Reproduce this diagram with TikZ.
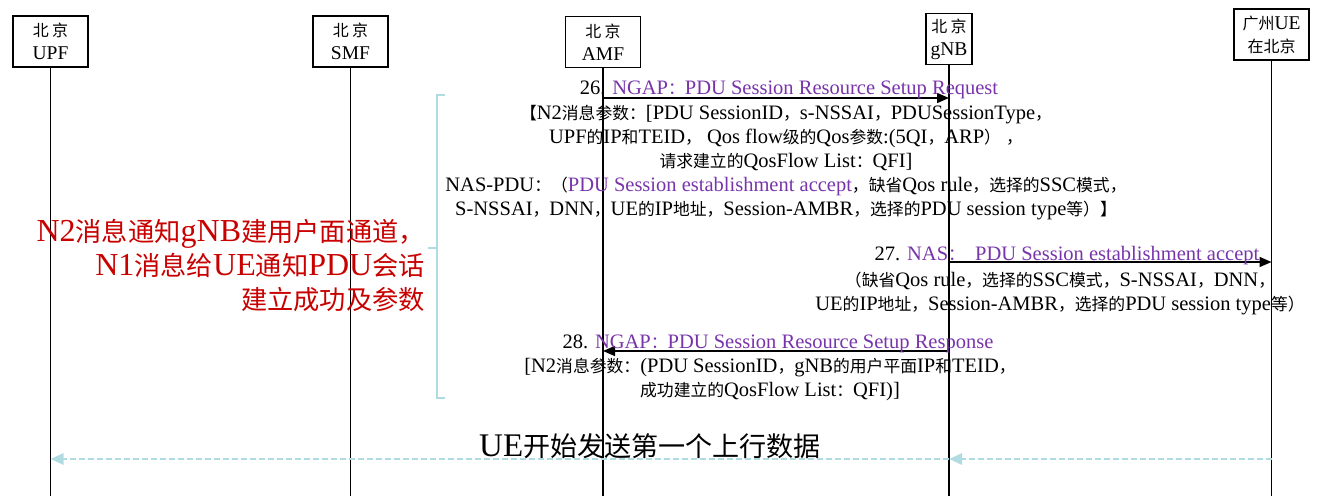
\documentclass[tikz,border=0pt]{standalone}
\usepackage{fontspec}
\setmainfont{Liberation Serif}
\newfontfamily\cjk[Scale=0.82]{Noto Sans CJK SC}
\usepackage{tikz}
\usetikzlibrary{arrows.meta,positioning}
\usepackage{xcolor}
\definecolor{msgpurple}{RGB}{120,52,170}
\definecolor{notered}{RGB}{200,0,0}
\definecolor{datacyan}{RGB}{176,219,224}

% 中文字符自动换用 CJK 字体
\XeTeXinterchartokenstate=1
\newXeTeXintercharclass\cjkclass
\newcount\cjkcnt
\newcommand\setcjkrange[2]{%
  \cjkcnt=#1
  \loop\XeTeXcharclass\cjkcnt=\cjkclass
    \ifnum\cjkcnt<#2 \advance\cjkcnt by 1 \repeat}
\setcjkrange{"3000}{"303F}
\setcjkrange{"4E00}{"9FFF}
\setcjkrange{"FF00}{"FFEF}
\XeTeXinterchartoks 0 \cjkclass={\cjk}
\XeTeXinterchartoks 4095 \cjkclass={\cjk}
\XeTeXinterchartoks \cjkclass 0={\rmfamily}
\XeTeXinterchartoks \cjkclass 4095={\rmfamily}

\begin{document}
\begin{tikzpicture}[x=1pt,y=-1pt,
  ne/.style={draw,line width=1.8pt,align=center,minimum width=75pt,minimum height=51pt,inner sep=2pt,font=\fontsize{19.5}{23}\selectfont},
  life/.style={line width=1.7pt},
  msg/.style={line width=1.7pt,-{Triangle[length=12pt,width=10pt]}},
  txt/.style={align=center,inner sep=0pt,font=\fontsize{20.5}{24}\selectfont},
  data/.style={datacyan,line width=2.8pt,dash pattern=on 6pt off 3pt,-{Triangle[length=13pt,width=11pt]}},
  brace/.style={datacyan,line width=1.3pt}]
  \useasboundingbox (0,0) rectangle (1327,502);

  % 网元
  \node[ne] (upf) at (50.5,41.5) {北\,京\\UPF};
  \node[ne] (smf) at (350.5,41.5) {北\,京\\SMF};
  \node[ne] (amf) at (603,42) {北\,京\\AMF};
  \node[ne,minimum width=46pt,inner sep=1pt] (gnb) at (949,39) {北\,京\\gNB};
  \node[ne,inner sep=1pt] (ue) at (1271.5,34.5) {广州UE\\在北京};

  % 生命线
  \coordinate (bot) at (0,496);
  \foreach \n in {upf,smf,amf,gnb,ue}
    \draw[life] (\n) -- (\n |- bot);

  % 26. N2 请求
  \coordinate (y26) at (0,98);
  \draw[msg] (amf |- y26) -- (gnb |- y26);
  \node[txt] (l26) at (789,90) {26. \textcolor{msgpurple}{NGAP：PDU Session Resource Setup Request}};
  \node[txt] (p26) at (786,163) {【N2消息参数：[PDU SessionID，s-NSSAI，PDUSessionType，\\
    UPF的IP和TEID， Qos flow级的Qos参数:(5QI，ARP） ，\\
    请求建立的QosFlow List：QFI]\\
    NAS-PDU：（\textcolor{msgpurple}{PDU Session establishment accept}，缺省Qos rule，选择的SSC模式，\\
    S-NSSAI，DNN，UE的IP地址，Session-AMBR，选择的PDU session type等）】};

  % 左侧说明
  \draw[brace] (445,95) -- (437,95) -- (437,398) -- (445,398);
  \draw[brace] (428,248) -- (437,248);
  \node[txt,align=right,anchor=east,text=notered,font=\fontsize{32}{34}\selectfont] (note) at (425,265)
    {N2消息通知gNB建用户面通道，\\N1消息给UE通知PDU会话\\建立成功及参数};

  % 27. NAS 消息
  \coordinate (y27) at (0,262);
  \draw[msg] (gnb |- y27) -- (ue |- y27);
  \node[txt] (l27) at (1067,256) {27. \textcolor{msgpurple}{NAS：\ \ PDU Session establishment accept}};
  \node[txt] (p27) at (1060,294) {（缺省Qos rule，选择的SSC模式，S-NSSAI，DNN，\\
    UE的IP地址，Session-AMBR，选择的PDU session type等）};

  % 28. N2 响应
  \coordinate (y28) at (0,351);
  \draw[msg] (gnb |- y28) -- (amf |- y28);
  \node[txt] (l28) at (778,344) {28. \textcolor{msgpurple}{NGAP：PDU Session Resource Setup Response}};
  \node[txt] (p28) at (770,380) {[N2消息参数：(PDU SessionID，gNB的用户平面IP和TEID，\\
    成功建立的QosFlow List：QFI)]};

  % 上行数据
  \coordinate (y29) at (0,459);
  \node[font=\fontsize{33}{36}\selectfont,inner sep=0pt] (first) at (650,446) {UE开始发送第一个上行数据};
  \draw[data] (ue |- y29) -- (gnb |- y29);
  \draw[data] (gnb |- y29) -- (upf |- y29);
\end{tikzpicture}
\end{document}
